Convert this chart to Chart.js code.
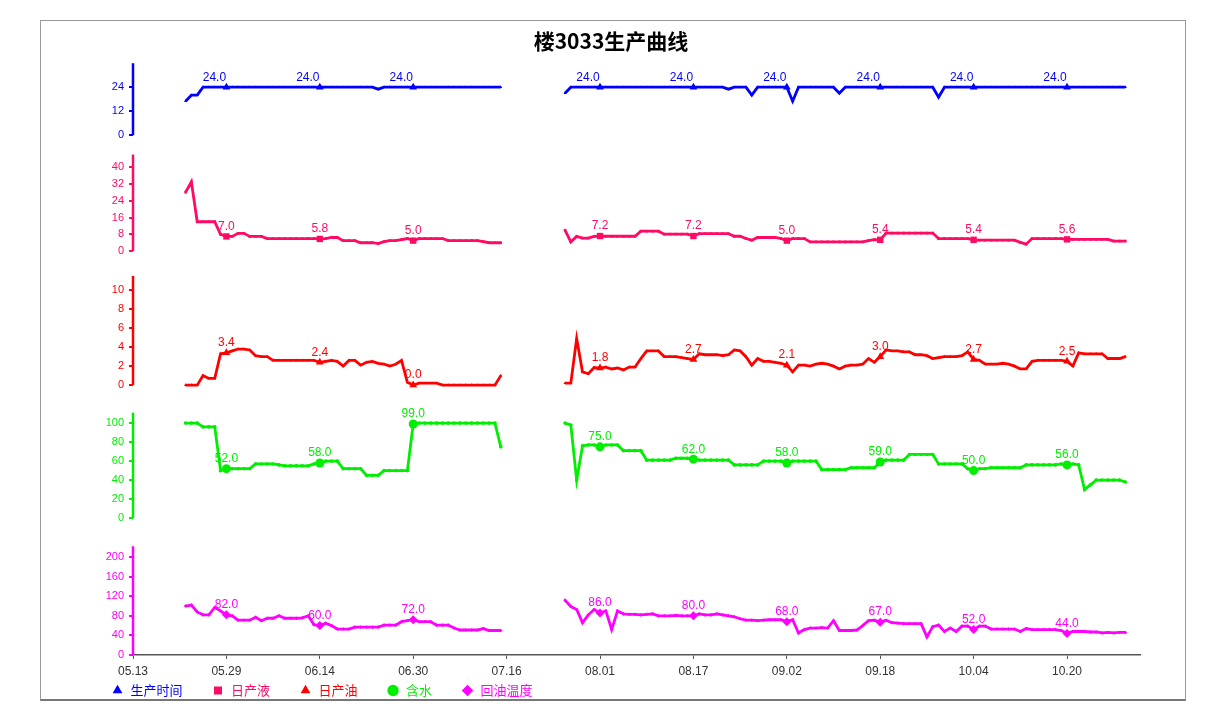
<!DOCTYPE html>
<html><head><meta charset="utf-8">
<script src="https://cdn.jsdelivr.net/npm/chart.js@4/dist/chart.umd.min.js"></script>
<style>
html,body{margin:0;padding:0;background:#fff;}
#wrap{position:relative;width:1223px;height:720px;overflow:hidden;}
#frame{position:absolute;left:40px;top:20px;width:1146px;height:681px;border:1px solid #9a9a9a;border-bottom:2px solid #777;box-sizing:border-box;}
canvas{position:absolute;left:0;top:0;}
</style></head><body>
<div id="wrap"><div id="frame"></div><canvas id="c" width="1223" height="720"></canvas></div>
<script>
// ---------- data ----------
const titleText = '楼3033生产曲线';
const seriesNames = ['生产时间', '日产液', '日产油', '含水', '回油温度'];
// x axis: days since 05.13
const xTickDays = [0, 16, 32, 48, 64, 80, 96, 112, 128, 144, 160];
const xTickLabels = ['05.13', '05.29', '06.14', '06.30', '07.16', '08.01', '08.17', '09.02', '09.18', '10.04', '10.20'];
const labelDays = [16, 32, 48, 80, 96, 112, 128, 144, 160];
const seg1Start = 9;   // 05.22
const seg2Start = 74;  // 07.26
const gapDay = 68;

const yTicksTime = [0, 12, 24];
const yTicksLiquid = [0, 8, 16, 24, 32, 40];
const yTicksOil = [0, 2, 4, 6, 8, 10];
const yTicksWater = [0, 20, 40, 60, 80, 100];
const yTicksTemp = [0, 40, 80, 120, 160, 200];

// 生产时间
const timeSeg1 = [
  17,20,20,24,24,24,24,24,24,24,
  24,24,24,24,24,24,24,24,24,24,
  24,24,24,24,24,24,24,24,24,24,
  24,24,24,23,24,24,24,24,24,24,
  24,24,24,24,24,24,24,24,24,24,
  24,24,24,24,24];
const timeSeg2 = [
  21,24,24,24,24,24,24,24,24,24,
  24,24,24,24,24,24,24,24,24,24,
  24,24,24,24,24,24,24,24,23,24,
  24,24,20,24,24,24,24,24,24,17,
  24,24,24,24,24,24,24,21,24,24,
  24,24,24,24,24,24,24,24,24,24,
  24,24,24,24,19,24,24,24,24,24,
  24,24,24,24,24,24,24,24,24,24,
  24,24,24,24,24,24,24,24,24,24,
  24,24,24,24,24,24,24];
// 日产液
const liquidSeg1 = [
  28,33,14,14,14,14,8,7,7,8.5,
  8.5,7,7,7,6,6,6,6,6,6,
  6,6,6,5.8,6,6.5,6.5,5,5,5,
  4,4,4,3.6,4.5,5,5,5.5,6,5.0,
  6,6,6,6,6,5,5,5,5,5,
  5,4.5,4,4,4];
const liquidSeg2 = [
  10,4.4,7,6.2,6.2,7,7.2,7.1,7.1,7.1,
  7.1,7.1,7.1,9.5,9.5,9.5,9.5,8.1,8.1,8.1,
  8.1,8.1,7.2,8.3,8.3,8.3,8.3,8.3,8.3,7.1,
  7.1,6,5.2,6.5,6.5,6.5,6.5,6,5.0,6,
  6,6,4.4,4.4,4.4,4.4,4.4,4.4,4.4,4.4,
  4.4,4.4,5,5.5,5.4,8.6,8.6,8.6,8.6,8.6,
  8.6,8.6,8.6,8.6,6,6,6,6,6,6,
  5.4,5.2,5.2,5.2,5.2,5.2,5.2,5.2,4.2,3.3,
  6,6,6,6,6,6,5.6,5.6,5.6,5.6,
  5.6,5.6,5.6,5.6,4.8,4.8,4.8];
// 日产油
const oilSeg1 = [
  0,0,0,1.0,0.7,0.7,3.3,3.4,3.6,3.8,
  3.8,3.7,3.1,3.0,3.0,2.6,2.6,2.6,2.6,2.6,
  2.6,2.6,2.6,2.4,2.5,2.6,2.5,2.0,2.6,2.6,
  2.1,2.4,2.5,2.3,2.2,2.0,2.2,2.6,0.3,0.0,
  0.2,0.2,0.2,0.2,0,0,0,0,0,0,
  0,0,0,0,1.0];
const oilSeg2 = [
  0.2,0.2,4.9,1.4,1.2,1.85,1.8,1.9,1.7,1.8,
  1.6,1.9,1.9,2.8,3.6,3.6,3.6,3.0,3.0,3.0,
  2.9,2.8,2.7,3.3,3.2,3.2,3.2,3.1,3.2,3.7,
  3.6,3.0,2.1,2.8,2.5,2.5,2.4,2.3,2.1,1.4,
  2.1,2.1,2.0,2.2,2.3,2.2,2.0,1.7,2.0,2.1,
  2.1,2.2,2.8,2.4,3.0,3.7,3.6,3.6,3.5,3.5,
  3.2,3.2,3.1,2.8,2.9,3.0,3.0,3.0,3.1,3.5,
  2.7,2.6,2.2,2.2,2.2,2.3,2.2,2.0,1.7,1.7,
  2.5,2.6,2.6,2.6,2.6,2.6,2.5,2.0,3.4,3.3,
  3.3,3.3,3.3,2.8,2.8,2.8,3.0];
// 含水
const waterSeg1 = [
  100,100,100,96,96,96,50,52,52,52,
  52,52,57,57,57,57,56,55,55,55,
  55,55,57,58,60,60,60,52,52,52,
  52,45,45,45,50,50,50,50,50,99,
  100,100,100,100,100,100,100,100,100,100,
  100,100,100,100,75];
const waterSeg2 = [
  100,98,40,76,77,77,75,77,77,77,
  71,71,71,71,61,61,61,61,61,63,
  63,63,62,61,61,61,61,61,61,56,
  56,56,56,56,60,60,60,60,58,60,
  60,60,60,60,51,51,51,51,51,53,
  53,53,53,53,59,61,61,61,61,67,
  67,67,67,67,57,57,57,57,57,52,
  50,52,52,53,53,53,53,53,53,56,
  56,56,56,56,56,57,56,57,56,30,
  35,40,40,40,40,40,38];
// 回油温度
const tempSeg1 = [
  100,102,88,82,82,97,90,82,80,71,
  71,71,77,70,75,75,80,75,75,75,
  76,80,62,60,65,60,53,53,53,57,
  57,57,57,57,61,61,61,68,70,72,
  68,68,68,61,61,61,55,51,51,51,
  51,54,50,50,50];
const tempSeg2 = [
  112,99,93,66,82,93,86,90,52,90,
  84,83,83,82,83,84,80,80,80,81,
  80,80,80,84,82,82,84,82,80,78,
  74,71,71,70,71,72,72,72,68,72,
  45,52,55,55,56,55,70,50,50,50,
  51,60,70,71,67,71,66,65,64,64,
  64,64,37,58,61,48,55,48,59,59,
  52,59,59,53,53,53,53,53,48,54,
  52,52,52,52,52,50,44,48,48,48,
  47,47,45,46,45,46,46];

// ---------- styles ----------
const seriesColors = ['#0000ff', '#ff0a64', '#ff0000', '#00ee00', '#ff00ff'];
const pointStyles = ['triangle', 'rect', 'triangle', 'circle', 'rectRot'];
const labelShift = [-12, 0, 0, 0, 0];
// panel geometry (axis ranges in data units; stack weights ~ pixel heights)
const panels = [
  {id: 'yTime',   ticks: yTicksTime,   min: -5,    max: 37.5,  top: 36,  h: 85},
  {id: 'yLiquid', ticks: yTicksLiquid, min: -5.24, max: 50.48, top: 46,  h: 117},
  {id: 'yOil',    ticks: yTicksOil,    min: -1.05, max: 12.95, top: 11.5, h: 133},
  {id: 'yWater',  ticks: yTicksWater,  min: -10.5, max: 129.5, top: 111, h: 133},
  {id: 'yTemp',   ticks: yTicksTemp,   min: 0,     max: 259.2, top: 222, h: 127}
];
const segs = [[timeSeg1, timeSeg2], [liquidSeg1, liquidSeg2], [oilSeg1, oilSeg2], [waterSeg1, waterSeg2], [tempSeg1, tempSeg2]];

function toPoints(s1, s2) {
  const pts = s1.map((v, i) => ({x: seg1Start + i, y: v}));
  pts.push({x: gapDay, y: null});
  s2.forEach((v, i) => pts.push({x: seg2Start + i, y: v}));
  return pts;
}

const datasets = segs.map((s, i) => ({
  label: seriesNames[i],
  data: toPoints(s[0], s[1]),
  yAxisID: panels[i].id,
  borderColor: seriesColors[i],
  backgroundColor: seriesColors[i],
  pointBackgroundColor: seriesColors[i],
  borderWidth: 2.8,
  pointStyle: pointStyles[i],
  pointRadius: ctx => (ctx.raw && labelDays.includes(ctx.raw.x)) ? 4.5 : 1.8,
  pointBorderWidth: 0,
  spanGaps: false,
  tension: 0,
  clip: false,
  labelShift: labelShift[i]
}));

const scales = {
  x: {
    type: 'linear', position: 'bottom', min: 0, max: 172.5,
    afterBuildTicks: s => { s.ticks = xTickDays.map(v => ({value: v})); },
    afterFit: s => { s.height = 0; s._computeLabelArea = () => null; },
    ticks: {autoSkip: false, maxRotation: 0, color: '#333', padding: 5,
      font: {size: 12, family: '"Liberation Sans", Arial, sans-serif'},
      callback: (v, i) => xTickLabels[i]},
    grid: {drawOnChartArea: false, drawTicks: true, tickLength: 4, color: '#555', lineWidth: 1},
    border: {display: true, color: '#555', width: 1.5}
  }
};
for (let i = panels.length - 1; i >= 0; i--) {
  const p = panels[i];
  scales[p.id] = {
    type: 'linear', position: 'left', stack: 'panels', stackWeight: p.h, weight: 10 - i,
    min: p.min, max: p.max,
    afterBuildTicks: s => { s.ticks = p.ticks.map(v => ({value: v})); },
    afterFit: s => { s.width = 51; },
    border: {display: false},
    grid: {drawOnChartArea: false, drawTicks: true, tickLength: 4, color: seriesColors[i], lineWidth: 2},
    ticks: {autoSkip: false, color: seriesColors[i], padding: 5,
      font: {size: 11, family: '"Liberation Sans", Arial, sans-serif'},
      callback: v => String(v)}
  };
}

const axisLines = {
  id: 'axisLines',
  beforeDatasetsDraw(chart) {
    const ctx = chart.ctx;
    panels.forEach((p, i) => {
      const s = chart.scales[p.id];
      ctx.save();
      ctx.strokeStyle = seriesColors[i];
      ctx.lineWidth = 2.5;
      ctx.beginPath();
      ctx.moveTo(s.right, s.getPixelForValue(0));
      ctx.lineTo(s.right, s.getPixelForValue(p.top));
      ctx.stroke();
      ctx.restore();
    });
  }
};

const valueLabels = {
  id: 'valueLabels',
  afterDatasetsDraw(chart) {
    const ctx = chart.ctx;
    chart.data.datasets.forEach((ds, di) => {
      const meta = chart.getDatasetMeta(di);
      ctx.save();
      ctx.font = '12px "Liberation Sans", Arial, sans-serif';
      ctx.fillStyle = ds.borderColor;
      ctx.textAlign = 'center';
      ctx.textBaseline = 'bottom';
      ds.data.forEach((pt, i) => {
        if (pt.y == null || !labelDays.includes(pt.x)) return;
        const el = meta.data[i];
        ctx.fillText(pt.y.toFixed(1), el.x + ds.labelShift, el.y - 4);
      });
      ctx.restore();
    });
  }
};

new Chart(document.getElementById('c'), {
  type: 'line',
  data: {datasets},
  options: {
    responsive: false,
    animation: false,
    devicePixelRatio: 1,
    events: [],
    layout: {padding: {left: 82, right: 83, top: 20, bottom: 13}},
    scales,
    plugins: {
      title: {display: true, text: titleText, color: '#000',
        font: {size: 21, weight: 'bold', family: '"Noto Sans CJK SC", sans-serif'},
        padding: {top: 8, bottom: 7}},
      legend: {
        display: true, position: 'bottom', align: 'start',
        labels: {
          usePointStyle: true, boxHeight: 8, padding: 29,
          font: {size: 13, family: '"Noto Sans CJK SC", sans-serif'},
          generateLabels: chart => Chart.defaults.plugins.legend.labels.generateLabels(chart).map((it, i) => {
            it.fontColor = seriesColors[i];
            it.fillStyle = seriesColors[i];
            it.strokeStyle = seriesColors[i];
            it.pointStyle = pointStyles[i];
            it.lineWidth = 0;
            return it;
          })
        }
      },
      tooltip: {enabled: false}
    }
  },
  plugins: [axisLines, valueLabels]
});
</script>
</body></html>
